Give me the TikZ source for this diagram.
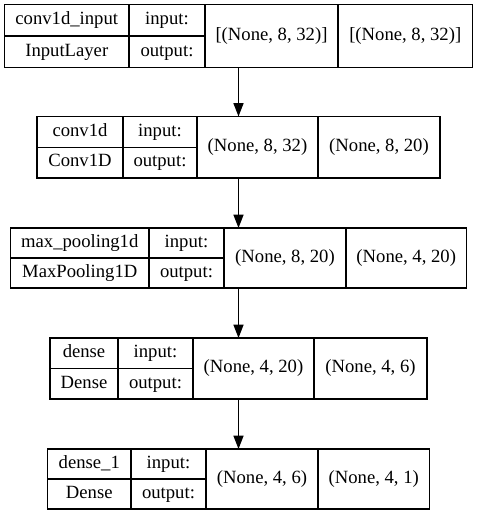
\documentclass[tikz,border=0pt]{standalone}
\usepackage{fontspec}
\newfontfamily\gvfont{LiberationSerif}[Extension=.ttf, UprightFont=*-Regular]
\usetikzlibrary{arrows.meta}

\tikzset{
  layerbox/.style={draw, line width=1pt, inner sep=0pt, outer sep=0pt},
  cell/.style={inner sep=0pt, text height=0.72em, text depth=0.22em},
  flow/.style={->, line width=1pt}
}

\begin{document}
\begin{tikzpicture}[x=0.75pt, y=-0.75pt, >={Triangle[length=10pt,width=7.5pt]},
    font=\gvfont\fontsize{14}{16}\selectfont]
  \useasboundingbox (0,0) rectangle (477,516);

  % --- Layers: id/top/bottom/left/col1/col2/col3/right/name/class/in/out ---
  \foreach \n/\yt/\yb/\xl/\ca/\cb/\cc/\xr/\lname/\lclass/\shin/\shout in {
      1/4.5/67.5/4.5/129/205/338/472.5/conv1d\_input/InputLayer/{[(None, 8, 32)]}/{[(None, 8, 32)]},
      2/116.5/178/37/123/197/318/440/conv1d/Conv1D/{(None, 8, 32)}/{(None, 8, 20)},
      3/228/288/10.5/149/224/346/466.5/max\_pooling1d/MaxPooling1D/{(None, 8, 20)}/{(None, 4, 20)},
      4/338/399/50/118/193/314/427/dense/Dense/{(None, 4, 20)}/{(None, 4, 6)},
      5/449/509/47.5/131/206/318/429.5/dense\_1/Dense/{(None, 4, 6)}/{(None, 4, 1)}} {
    \pgfmathsetmacro\ym{(\yt+\yb)/2}
    \node[layerbox, minimum width={(\xr-\xl)*0.75pt}, minimum height={(\yb-\yt)*0.75pt}]
      (L\n) at ({(\xl+\xr)/2},\ym) {};
    \draw[line width=1pt] (\ca,\yt) -- (\ca,\yb);
    \draw[line width=1pt] (\cb,\yt) -- (\cb,\yb);
    \draw[line width=1pt] (\cc,\yt) -- (\cc,\yb);
    \draw[line width=1pt] (\xl,\ym) -- (\cb,\ym);
    \node[cell] (name\n)  at ({(\xl+\ca)/2},{(\yt+\ym)/2+1}) {\lname};
    \node[cell] (class\n) at ({(\xl+\ca)/2},{(\ym+\yb)/2+1}) {\lclass};
    \node[cell] (inlbl\n) at ({(\ca+\cb)/2},{(\yt+\ym)/2+1}) {input:};
    \node[cell] (outlbl\n) at ({(\ca+\cb)/2},{(\ym+\yb)/2+1}) {output:};
    \node[cell] (in\n)  at ({(\cb+\cc)/2},\ym+1) {\shin};
    \node[cell] (out\n) at ({(\cc+\xr)/2},\ym+1) {\shout};
  }

  % --- Connections ---
  \foreach \a/\b in {1/2, 2/3, 3/4, 4/5}
    \draw[flow] (L\a) -- (L\b);
\end{tikzpicture}
\end{document}
